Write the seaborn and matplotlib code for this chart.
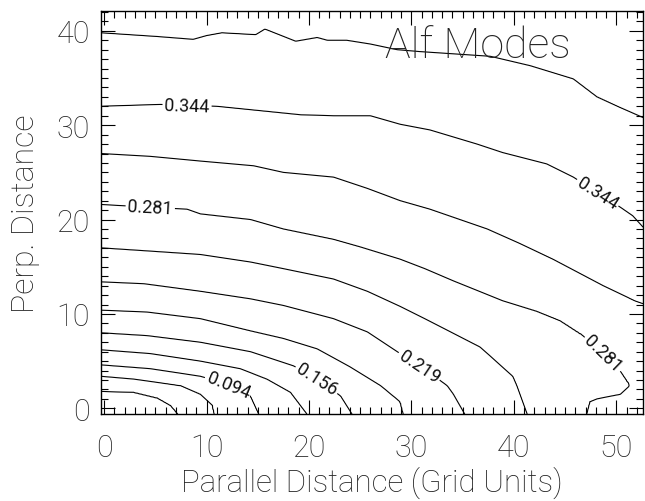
import numpy as np
import matplotlib
matplotlib.use("Agg")
import matplotlib.pyplot as plt
from matplotlib.ticker import MultipleLocator
import seaborn as sns

# ---------------- data ----------------
levels = [0.03125, 0.0625, 0.09375, 0.125, 0.15625, 0.1875,
          0.21875, 0.25, 0.28125, 0.3125, 0.34375, 0.375]
labeled_levels = [0.09375, 0.15625, 0.21875, 0.28125, 0.34375]

# contour traces (grid units), one per level
c1_x = [-0.3, 2.9, 5.2, 6.5, 7.2]
c1_y = [1.8, 1.7, 1.1, 0.3, -0.6]
c2_x = [-0.3, 2.9, 7.5, 9.4, 10.6, 10.75]
c2_y = [3.4, 3.1, 2.4, 1.5, 0.3, -0.6]
c3_x = [-0.3, 4.5, 9.4, 12.0, 14.3, 15.1]
c3_y = [4.6, 4.2, 3.4, 2.6, 1.3, -0.6]
c4_x = [-0.3, 4.5, 9.4, 13.3, 15.9, 18.2, 19.8]
c4_y = [6.2, 5.8, 5.0, 4.2, 3.1, 1.7, -0.6]
c5_x = [-0.3, 4.2, 9.4, 14.3, 18.5, 21.0, 23.1, 24.2]
c5_y = [8.0, 7.7, 7.0, 6.0, 4.5, 3.0, 1.3, -0.6]
c6_x = [-0.3, 4.2, 9.4, 14.3, 17.5, 20.8, 24.0, 27.0, 28.9, 29.2]
c6_y = [10.4, 10.2, 9.5, 8.2, 7.4, 6.3, 4.4, 2.4, 0.7, -0.6]
c7_x = [-0.3, 3.9, 9.4, 14.3, 17.5, 22.4, 25.7, 28.9, 31.5, 33.5, 34.1, 35.2]
c7_y = [13.4, 13.2, 12.4, 11.6, 10.9, 9.5, 8.1, 5.8, 4.0, 2.4, 1.5, -0.6]
c8_x = [-0.3, 3.9, 9.4, 14.3, 17.5, 22.4, 25.7, 28.9, 31.3, 36.7, 39.9, 40.3, 41.3]
c8_y = [17.0, 16.7, 16.3, 15.5, 14.8, 13.7, 12.4, 10.8, 9.5, 6.5, 3.4, 2.4, -0.6]
c9_x = [-0.3, 4.5, 8.1, 9.4, 14.3, 17.5, 22.4, 25.0, 28.9, 31.3, 34.1, 38.9,
        42.2, 44.5, 46.8, 48.7, 50.4, 51.3]
c9_y = [21.6, 21.3, 21.1, 20.6, 20.0, 19.0, 17.9, 17.1, 15.8, 14.8, 13.5, 11.4,
        10.3, 9.3, 7.7, 5.8, 3.9, 2.4]
c9b_x = [47.1, 47.4, 48.1, 50.4, 51.3]
c9b_y = [-0.6, 0.7, 1.0, 1.5, 2.4]
c10_x = [-0.3, 4.5, 9.4, 14.6, 17.5, 22.4, 25.7, 28.9, 31.8, 37.4, 40.5, 43.8,
         48.7, 51.8, 52.6]
c10_y = [27.0, 26.7, 26.2, 25.7, 25.0, 24.5, 23.3, 22.0, 21.1, 19.0, 17.5, 15.8,
         13.0, 11.4, 11.1]
c11_x = [-0.3, 5.5, 11.0, 19.2, 22.4, 26.0, 28.9, 31.8, 36.4, 38.9, 43.2, 45.8,
         50.4, 51.6, 52.6]
c11_y = [32.0, 32.2, 32.0, 31.1, 31.0, 31.0, 30.1, 29.5, 28.0, 27.1, 25.9, 24.5,
         21.3, 20.4, 19.2]
c12_x = [-0.3, 5.2, 8.7, 10.0, 11.5, 14.8, 15.7, 18.7, 20.8, 21.8, 23.7, 26.0,
         28.6, 30.8, 37.7, 41.6, 45.8, 48.1, 50.3, 52.6]
c12_y = [39.8, 39.4, 39.1, 39.5, 39.8, 39.6, 40.2, 38.9, 39.3, 39.0, 39.0, 38.6,
         38.0, 37.8, 37.3, 36.3, 34.9, 33.0, 31.9, 30.8]

# field values along the bottom edge and at the top edge
bottom_x = [-0.3, 7.2, 10.75, 15.1, 19.8, 24.2, 29.2, 35.2, 41.3, 47.1, 49.0, 52.6]
bottom_v = [0.0, 0.03125, 0.0625, 0.09375, 0.125, 0.15625, 0.1875, 0.21875,
            0.25, 0.28125, 0.29, 0.29]
top_v = 0.39

x_ticks = [0, 10, 20, 30, 40, 50]
y_ticks = [0, 10, 20, 30, 40]
title = "Alf Modes"
xlabel = "Parallel Distance (Grid Units)"
ylabel = "Perp. Distance"

# ---------------- rebuild the field from the traces ----------------
X0, X1 = -0.3, 52.6
Y0, Y1 = -0.6, 42.1
traces = [(c1_x, c1_y, levels[0]), (c2_x, c2_y, levels[1]), (c3_x, c3_y, levels[2]),
          (c4_x, c4_y, levels[3]), (c5_x, c5_y, levels[4]), (c6_x, c6_y, levels[5]),
          (c7_x, c7_y, levels[6]), (c8_x, c8_y, levels[7]), (c9_x, c9_y, levels[8]),
          (c9b_x, c9b_y, levels[8]), (c10_x, c10_y, levels[9]),
          (c11_x, c11_y, levels[10]), (c12_x, c12_y, levels[11])]

gx = np.linspace(X0, X1, 531)
gy = np.linspace(Y0, Y1, 428)
Z = np.empty((gy.size, gx.size))
for j, x in enumerate(gx):
    py = [Y0]
    pv = [np.interp(x, bottom_x, bottom_v)]
    for tx, ty, lev in traces:
        if tx[0] <= x <= tx[-1]:
            yc = float(np.interp(x, tx, ty))
            if yc > Y0 + 1e-6:
                py.append(yc)
                pv.append(lev)
    if c9b_x[0] < x < c9b_x[-1]:
        ylo = np.interp(x, c9b_x, c9b_y)
        yhi = np.interp(x, c9_x, c9_y)
        py.append(0.5 * (ylo + yhi))
        pv.append(levels[8] - 0.01)
    py.append(Y1)
    pv.append(top_v)
    order = np.argsort(py)
    Z[:, j] = np.interp(gy, np.asarray(py)[order], np.asarray(pv)[order])

# ---------------- drawing ----------------
sns.set_theme(style="white")
plt.rcParams["font.family"] = ["Roboto", "DejaVu Sans"]
plt.rcParams["font.weight"] = "light"

fig = plt.figure(figsize=(6.45, 5.02), dpi=100)
ax = fig.add_axes([101 / 645, 87 / 502, 542 / 645, 403 / 502])

plain_levels = [v for v in levels if v not in labeled_levels]
ax.contour(gx, gy, Z, levels=plain_levels, colors="black", linewidths=0.8)
cs = ax.contour(gx, gy, Z, levels=labeled_levels, colors="black", linewidths=0.8)
manual = [(8.1, 32.1), (48.1, 22.7), (4.5, 21.1), (48.7, 5.8),
          (31.6, 5.8), (20.8, 3.1), (12.1, 2.4)]
labels = ax.clabel(cs, fmt="%.3f", fontsize=13,
                   inline=True, inline_spacing=3, manual=manual)
for t in labels:
    t.set_fontweight("normal")
    t.set_color("#111111")

ax.set_xlim(X0, X1)
ax.set_ylim(Y0, Y1)
ax.set_xticks(x_ticks)
ax.set_yticks(y_ticks)
ax.xaxis.set_minor_locator(MultipleLocator(1))
ax.yaxis.set_minor_locator(MultipleLocator(1))
ax.tick_params(which="both", direction="in", top=True, right=True,
               bottom=True, left=True, color="black", width=0.8)
ax.tick_params(which="major", length=10)
ax.tick_params(which="minor", length=5)
ax.tick_params(axis="x", which="major", labelsize=22, pad=14)
ax.tick_params(axis="y", which="major", labelsize=22, pad=8)
for s in ax.spines.values():
    s.set_color("black")
    s.set_linewidth(1.0)

ax.set_xlabel(xlabel, fontsize=22.5, fontweight="light", labelpad=2, color="#222222")
ax.set_ylabel(ylabel, fontsize=23, fontweight="light", labelpad=12, color="#222222")
ax.text(0.524, 0.886, title, transform=ax.transAxes, fontsize=31,
        fontweight="light", ha="left", va="baseline", color="#222222")

fig.savefig("out.png", dpi=100, facecolor="white")
